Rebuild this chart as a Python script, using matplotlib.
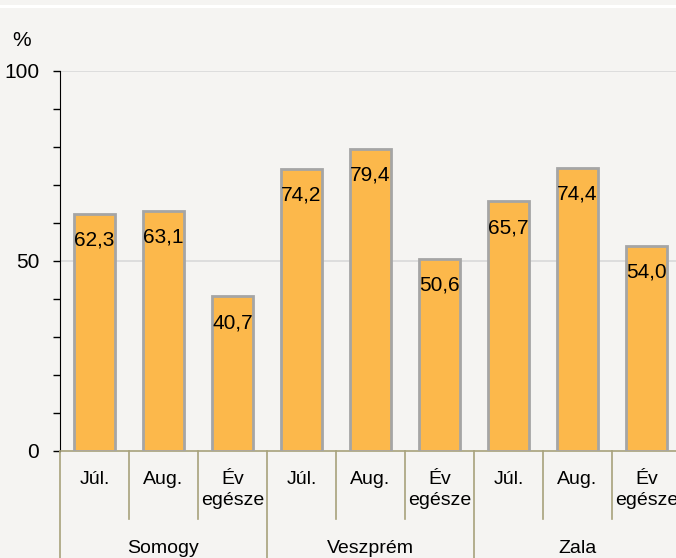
import numpy as np
import matplotlib.pyplot as plt
from matplotlib.patches import Rectangle

plt.rcParams['font.family'] = ['Liberation Sans', 'DejaVu Sans']

# data
groups = ["Somogy", "Veszprém", "Zala"]
periods = ["Júl.", "Aug.", "Év\negésze"]
values = [62.3, 63.1, 40.7, 74.2, 79.4, 50.6, 65.7, 74.4, 54.0]
yticks = [0, 50, 100]

bg = "#f5f4f2"
bar_col = "#fcb84b"
edge_col = "#a5a5a5"
sep_col = "#a8a27c"

fig = plt.figure(figsize=(6.76, 5.58), dpi=100, facecolor=bg)
# white strip along the top
fig.add_artist(Rectangle((0, 1 - 8 / 558), 1, 3 / 558, transform=fig.transFigure,
                         facecolor="white", edgecolor="none"))

ax = fig.add_axes([60 / 676, 107 / 558, 621 / 676, 380 / 558])
ax.set_facecolor(bg)

n = len(values)
x = np.arange(n)
bars = ax.bar(x, values, width=0.6, color=bar_col, edgecolor=edge_col, linewidth=2, zorder=3)

for xi, v in zip(x, values):
    ax.annotate(f"{v:.1f}".replace(".", ","), (xi, v), xytext=(0, -12),
                textcoords="offset points", ha="center", va="top", fontsize=15, zorder=4)

ax.set_xlim(-0.5, n - 0.5)
ax.set_ylim(0, 100)
ax.set_yticks(yticks)
ax.set_yticklabels([str(t) for t in yticks], fontsize=15)
ax.set_yticks(np.arange(0, 101, 10), minor=True)
ax.tick_params(axis="y", which="both", direction="out", length=5, width=1, color="black", pad=10)
ax.set_xticks([])

for gy in [50, 100]:
    ax.axhline(gy, color="#d9d9d9", linewidth=1.2, zorder=1)

for s in ["top", "right"]:
    ax.spines[s].set_visible(False)
ax.spines["left"].set_color("black")
ax.spines["bottom"].set_color(sep_col)
ax.spines["bottom"].set_linewidth(1.2)

tr = ax.get_xaxis_transform()
# category labels
for i in range(n):
    ax.text(i, -0.052, periods[i % 3], transform=tr, ha="center", va="top",
            fontsize=14, linespacing=1.3)
# separators
for i in range(n + 1):
    b = i - 0.5
    low = -0.29 if i % 3 == 0 else -0.18
    ax.plot([b, b], [0, low], transform=tr, color=sep_col, linewidth=1.2, clip_on=False)
# group labels
for g, name in enumerate(groups):
    ax.text(g * 3 + 1, -0.233, name, transform=tr, ha="center", va="top", fontsize=14)

fig.text(22 / 676, 1 - 40 / 558, "%", ha="center", va="center", fontsize=15)

fig.savefig("out.png", dpi=100, facecolor=bg)
